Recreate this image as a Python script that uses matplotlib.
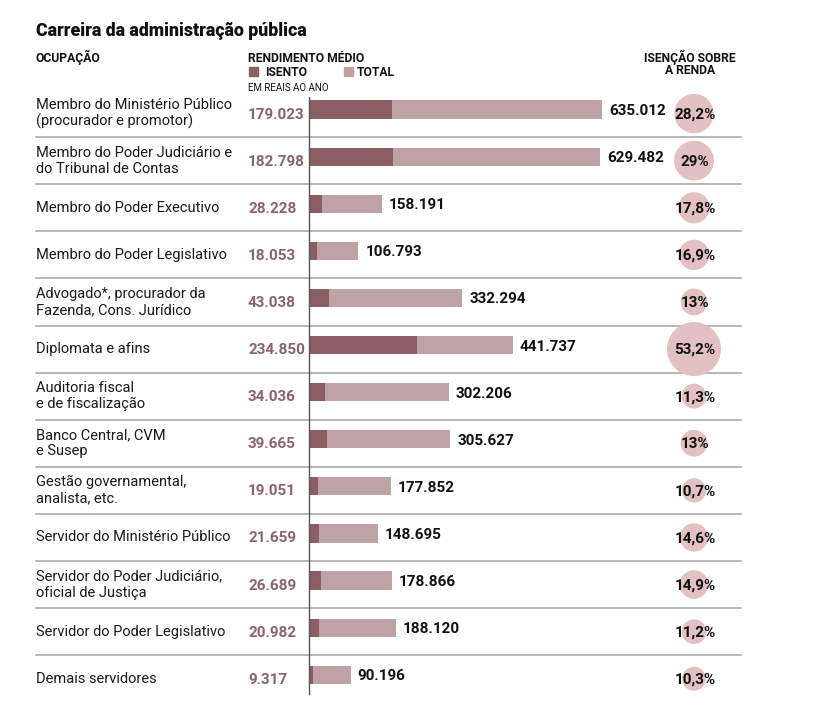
import matplotlib
matplotlib.use("Agg")
import matplotlib.pyplot as plt
from matplotlib.transforms import blended_transform_factory

plt.rcParams['font.family'] = ['Roboto', 'DejaVu Sans']

ocupacoes = [
    "Membro do Ministério Público\n(procurador e promotor)",
    "Membro do Poder Judiciário e\ndo Tribunal de Contas",
    "Membro do Poder Executivo",
    "Membro do Poder Legislativo",
    "Advogado*, procurador da\nFazenda, Cons. Jurídico",
    "Diplomata e afins",
    "Auditoria fiscal\ne de fiscalização",
    "Banco Central, CVM\ne Susep",
    "Gestão governamental,\nanalista, etc.",
    "Servidor do Ministério Público",
    "Servidor do Poder Judiciário,\noficial de Justiça",
    "Servidor do Poder Legislativo",
    "Demais servidores",
]
isento = [179023, 182798, 28228, 18053, 43038, 234850, 34036, 39665, 19051, 21659, 26689, 20982, 9317]
total = [635012, 629482, 158191, 106793, 332294, 441737, 302206, 305627, 177852, 148695, 178866, 188120, 90196]
isencao = [28.2, 29, 17.8, 16.9, 13, 53.2, 11.3, 13, 10.7, 14.6, 14.9, 11.2, 10.3]

C_ISENTO = "#8b5e64"
C_TOTAL = "#bfa2a5"
C_CIRC = "#e3c0c2"
C_ISLBL = "#8b6369"

W, H = 814, 714
fig = plt.figure(figsize=(W / 100, H / 100), dpi=100)

def fx(px):
    return px / W

def fy(py):
    return 1 - py / H

n = len(ocupacoes)
row_h = 47.1
top_px = 90.0
bot_px = top_px + n * row_h
ax_left_px, ax_right_px = 309, 741
ax = fig.add_axes([fx(ax_left_px), fy(bot_px), fx(ax_right_px - ax_left_px), (bot_px - top_px) / H])
ax.set_xlim(0, (ax_right_px - ax_left_px) * 2165)
ax.set_ylim(n - 0.5, -0.5)
ax.axis("off")

ys = list(range(n))
bar_off = -0.085
ybars = [y + bar_off for y in ys]
ax.barh(ybars, total, height=0.385, color=C_TOTAL, zorder=2)
ax.barh(ybars, isento, height=0.385, color=C_ISENTO, zorder=3)

def fmt_num(v):
    return f"{v:,}".replace(",", ".")

def fmt_pct(p):
    if float(p).is_integer():
        return f"{int(p)}%"
    return f"{p:.1f}%".replace(".", ",")

bt = blended_transform_factory(fig.transFigure, ax.transData)

# separators
for i in range(n - 1):
    ax.plot([fx(36), fx(741)], [i + 0.5, i + 0.5], transform=bt, color="#a3a3a3",
            lw=1.1, clip_on=False, zorder=1)

# vertical axis line
ax.plot([0, 0], [-0.35, n - 0.5 - 0.18], color="#555555", lw=1.0, clip_on=False, zorder=4)

# circles
sizes = [p * 28.4 for p in isencao]
ax.scatter([fx(694)] * n, ys, s=sizes, color=C_CIRC, transform=bt, zorder=2,
           linewidths=0, clip_on=False)

NUM_FS = 11
for i in range(n):
    ax.text(fx(36), ys[i], ocupacoes[i], transform=bt, ha="left", va="center",
            fontsize=10.5, color="#1a1a1a", linespacing=1.2)
    ax.annotate(fmt_num(isento[i]), xy=(fx(248), ys[i]), xycoords=bt, xytext=(0, -1),
                textcoords="offset pixels", ha="left", va="center",
                fontsize=NUM_FS, fontweight="bold", color=C_ISLBL)
    ax.annotate(fmt_num(total[i]), xy=(total[i], ybars[i]), xytext=(7, -1.5),
                textcoords="offset pixels", ha="left", va="center",
                fontsize=NUM_FS, fontweight="bold", color="#111111", zorder=5)
    ax.annotate(fmt_pct(isencao[i]), xy=(fx(695), ys[i]), xycoords=bt, xytext=(0, -1),
                textcoords="offset pixels", ha="center", va="center",
                fontsize=NUM_FS, fontweight="bold", color="#111111", zorder=5)

# headers
HFS = 8.7
fig.text(fx(36), fy(36), "Carreira da administração pública", ha="left", va="baseline",
         fontsize=12.8, fontweight="heavy", color="#111111")
fig.text(fx(36), fy(62), "OCUPAÇÃO", ha="left", va="baseline",
         fontsize=HFS, fontweight="bold", color="#111111")
fig.text(fx(248), fy(62), "RENDIMENTO MÉDIO", ha="left", va="baseline",
         fontsize=HFS, fontweight="bold", color="#111111")
fig.patches.append(plt.Rectangle((fx(249), fy(76)), fx(9), 9 / H, transform=fig.transFigure,
                                 color=C_ISENTO, figure=fig))
fig.text(fx(265), fy(76), "ISENTO", ha="left", va="baseline",
         fontsize=HFS, fontweight="bold", color="#111111")
fig.patches.append(plt.Rectangle((fx(344), fy(76)), fx(9), 9 / H, transform=fig.transFigure,
                                 color=C_TOTAL, figure=fig))
fig.text(fx(357), fy(76), "TOTAL", ha="left", va="baseline",
         fontsize=HFS, fontweight="bold", color="#111111")
fig.text(fx(248), fy(91), "EM REAIS AO ANO", ha="left", va="baseline",
         fontsize=7, color="#111111")
fig.text(fx(690), fy(62), "ISENÇÃO SOBRE", ha="center", va="baseline",
         fontsize=HFS, fontweight="bold", color="#111111")
fig.text(fx(690), fy(74), "A RENDA", ha="center", va="baseline",
         fontsize=HFS, fontweight="bold", color="#111111")

fig.savefig("out.png", dpi=100, facecolor="white")
